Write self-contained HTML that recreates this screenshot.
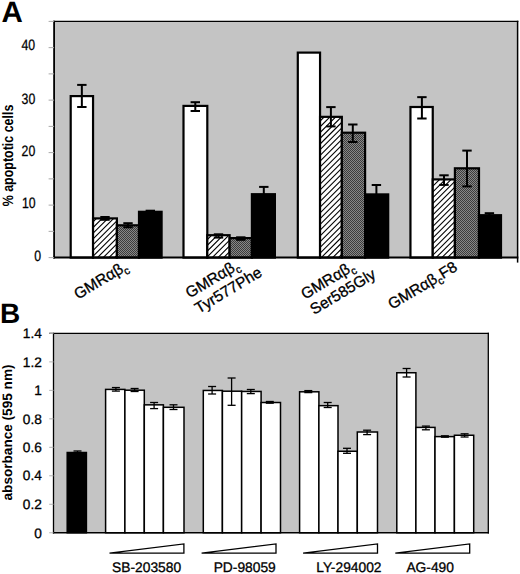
<!DOCTYPE html>
<html><head><meta charset="utf-8"><style>
html,body{margin:0;padding:0;background:#fff;}
svg{display:block;}
text{font-family:"Liberation Sans", sans-serif;fill:#000;stroke:#000;stroke-width:0.3px;text-rendering:geometricPrecision;}
text[font-weight=bold]{stroke:none;}
</style></head><body>
<svg width="520" height="574" viewBox="0 0 520 574">
<defs>
<pattern id="dots" patternUnits="userSpaceOnUse" width="2" height="2">
<rect width="2" height="2" fill="#888"/>
<rect width="1" height="1" fill="#3c3c3c"/>
<rect x="1" y="1" width="1" height="1" fill="#3c3c3c"/>
</pattern>
</defs>
<text x="1.6" y="21.9" font-size="29.5" font-weight="bold">A</text>
<text x="-0.1" y="323.3" font-size="28" font-weight="bold">B</text>
<rect x="54.1" y="21.4" width="463.5" height="236.2" fill="#c4c4c4" stroke="none" stroke-width="0"/>
<rect x="70.7" y="96.1" width="22.35" height="161.5" fill="#fff" stroke="#000" stroke-width="2.2"/>
<rect x="93.05" y="218.4" width="23.85" height="39.2" fill="#fff" stroke="none" stroke-width="0"/>
<clipPath id="hc0"><rect x="93.05" y="218.4" width="23.85" height="39.2"/></clipPath>
<path clip-path="url(#hc0)" d="M91.05,218.07L118.9,190.22M91.05,223.81L118.9,195.96M91.05,229.55L118.9,201.7M91.05,235.29L118.9,207.44M91.05,241.03L118.9,213.18M91.05,246.77L118.9,218.92M91.05,252.51L118.9,224.66M91.05,258.25L118.9,230.4M91.05,263.99L118.9,236.14M91.05,269.73L118.9,241.88M91.05,275.47L118.9,247.62M91.05,281.21L118.9,253.36M91.05,286.95L118.9,259.1" stroke="#000" stroke-width="1.1" fill="none"/>
<rect x="93.05" y="218.4" width="23.85" height="39.2" fill="none" stroke="#000" stroke-width="2.2"/>
<rect x="116.9" y="225.3" width="22.1" height="32.3" fill="url(#dots)" stroke="#000" stroke-width="2.2"/>
<rect x="139" y="211.8" width="22.6" height="45.8" fill="#000" stroke="#000" stroke-width="2.2"/>
<line x1="81.85" y1="84.9" x2="81.85" y2="107" stroke="#000" stroke-width="2.0"/>
<line x1="77.15" y1="84.9" x2="86.55" y2="84.9" stroke="#000" stroke-width="2.0"/>
<line x1="77.15" y1="107" x2="86.55" y2="107" stroke="#000" stroke-width="2.0"/>
<line x1="105" y1="217" x2="105" y2="219.8" stroke="#000" stroke-width="2.0"/>
<line x1="100.3" y1="217" x2="109.7" y2="217" stroke="#000" stroke-width="2.0"/>
<line x1="100.3" y1="219.8" x2="109.7" y2="219.8" stroke="#000" stroke-width="2.0"/>
<line x1="128" y1="223.2" x2="128" y2="227.3" stroke="#000" stroke-width="2.0"/>
<line x1="123.3" y1="223.2" x2="132.7" y2="223.2" stroke="#000" stroke-width="2.0"/>
<line x1="123.3" y1="227.3" x2="132.7" y2="227.3" stroke="#000" stroke-width="2.0"/>
<line x1="150.3" y1="210.7" x2="150.3" y2="214" stroke="#000" stroke-width="2.0"/>
<line x1="145.6" y1="210.7" x2="155" y2="210.7" stroke="#000" stroke-width="2.0"/>
<line x1="145.6" y1="214" x2="155" y2="214" stroke="#000" stroke-width="2.0"/>
<rect x="183.5" y="105.9" width="23.8" height="151.7" fill="#fff" stroke="#000" stroke-width="2.2"/>
<rect x="207.3" y="235.2" width="22.3" height="22.4" fill="#fff" stroke="none" stroke-width="0"/>
<clipPath id="hc1"><rect x="207.3" y="235.2" width="22.3" height="22.4"/></clipPath>
<path clip-path="url(#hc1)" d="M205.3,230.1L231.6,203.8M205.3,235.84L231.6,209.54M205.3,241.58L231.6,215.28M205.3,247.32L231.6,221.02M205.3,253.06L231.6,226.76M205.3,258.8L231.6,232.5M205.3,264.54L231.6,238.24M205.3,270.28L231.6,243.98M205.3,276.02L231.6,249.72M205.3,281.76L231.6,255.46M205.3,287.5L231.6,261.2" stroke="#000" stroke-width="1.1" fill="none"/>
<rect x="207.3" y="235.2" width="22.3" height="22.4" fill="none" stroke="#000" stroke-width="2.2"/>
<rect x="229.6" y="238.1" width="22.3" height="19.5" fill="url(#dots)" stroke="#000" stroke-width="2.2"/>
<rect x="251.9" y="194.2" width="23" height="63.4" fill="#000" stroke="#000" stroke-width="2.2"/>
<line x1="195.3" y1="102.2" x2="195.3" y2="111" stroke="#000" stroke-width="2.0"/>
<line x1="190.6" y1="102.2" x2="200" y2="102.2" stroke="#000" stroke-width="2.0"/>
<line x1="190.6" y1="111" x2="200" y2="111" stroke="#000" stroke-width="2.0"/>
<line x1="218.5" y1="234.3" x2="218.5" y2="237.6" stroke="#000" stroke-width="2.0"/>
<line x1="213.8" y1="234.3" x2="223.2" y2="234.3" stroke="#000" stroke-width="2.0"/>
<line x1="213.8" y1="237.6" x2="223.2" y2="237.6" stroke="#000" stroke-width="2.0"/>
<line x1="240.8" y1="237.3" x2="240.8" y2="239.8" stroke="#000" stroke-width="2.0"/>
<line x1="236.1" y1="237.3" x2="245.5" y2="237.3" stroke="#000" stroke-width="2.0"/>
<line x1="236.1" y1="239.8" x2="245.5" y2="239.8" stroke="#000" stroke-width="2.0"/>
<line x1="263.8" y1="186.9" x2="263.8" y2="200" stroke="#000" stroke-width="2.0"/>
<line x1="259.1" y1="186.9" x2="268.5" y2="186.9" stroke="#000" stroke-width="2.0"/>
<line x1="259.1" y1="200" x2="268.5" y2="200" stroke="#000" stroke-width="2.0"/>
<rect x="297.8" y="52.6" width="22.25" height="205" fill="#fff" stroke="#000" stroke-width="2.2"/>
<rect x="320.05" y="116.85" width="21.8" height="140.75" fill="#fff" stroke="none" stroke-width="0"/>
<clipPath id="hc2"><rect x="320.05" y="116.85" width="21.8" height="140.75"/></clipPath>
<path clip-path="url(#hc2)" d="M318.05,111.61L343.85,85.81M318.05,117.35L343.85,91.55M318.05,123.09L343.85,97.29M318.05,128.83L343.85,103.03M318.05,134.57L343.85,108.77M318.05,140.31L343.85,114.51M318.05,146.05L343.85,120.25M318.05,151.79L343.85,125.99M318.05,157.53L343.85,131.73M318.05,163.27L343.85,137.47M318.05,169.01L343.85,143.21M318.05,174.75L343.85,148.95M318.05,180.49L343.85,154.69M318.05,186.23L343.85,160.43M318.05,191.97L343.85,166.17M318.05,197.71L343.85,171.91M318.05,203.45L343.85,177.65M318.05,209.19L343.85,183.39M318.05,214.93L343.85,189.13M318.05,220.67L343.85,194.87M318.05,226.41L343.85,200.61M318.05,232.15L343.85,206.35M318.05,237.89L343.85,212.09M318.05,243.63L343.85,217.83M318.05,249.37L343.85,223.57M318.05,255.11L343.85,229.31M318.05,260.85L343.85,235.05M318.05,266.59L343.85,240.79M318.05,272.33L343.85,246.53M318.05,278.07L343.85,252.27M318.05,283.81L343.85,258.01" stroke="#000" stroke-width="1.1" fill="none"/>
<rect x="320.05" y="116.85" width="21.8" height="140.75" fill="none" stroke="#000" stroke-width="2.2"/>
<rect x="341.85" y="132.7" width="23.25" height="124.9" fill="url(#dots)" stroke="#000" stroke-width="2.2"/>
<rect x="365.1" y="194.4" width="23.1" height="63.2" fill="#000" stroke="#000" stroke-width="2.2"/>
<line x1="330.9" y1="107.1" x2="330.9" y2="126.4" stroke="#000" stroke-width="2.0"/>
<line x1="326.2" y1="107.1" x2="335.6" y2="107.1" stroke="#000" stroke-width="2.0"/>
<line x1="326.2" y1="126.4" x2="335.6" y2="126.4" stroke="#000" stroke-width="2.0"/>
<line x1="352.8" y1="124.5" x2="352.8" y2="142" stroke="#000" stroke-width="2.0"/>
<line x1="348.1" y1="124.5" x2="357.5" y2="124.5" stroke="#000" stroke-width="2.0"/>
<line x1="348.1" y1="142" x2="357.5" y2="142" stroke="#000" stroke-width="2.0"/>
<line x1="376.4" y1="185" x2="376.4" y2="204" stroke="#000" stroke-width="2.0"/>
<line x1="371.7" y1="185" x2="381.1" y2="185" stroke="#000" stroke-width="2.0"/>
<line x1="371.7" y1="204" x2="381.1" y2="204" stroke="#000" stroke-width="2.0"/>
<rect x="410.45" y="107" width="22.3" height="150.6" fill="#fff" stroke="#000" stroke-width="2.2"/>
<rect x="432.75" y="179.4" width="22.15" height="78.2" fill="#fff" stroke="none" stroke-width="0"/>
<clipPath id="hc3"><rect x="432.75" y="179.4" width="22.15" height="78.2"/></clipPath>
<path clip-path="url(#hc3)" d="M430.75,176.85L456.9,150.7M430.75,182.59L456.9,156.44M430.75,188.33L456.9,162.18M430.75,194.07L456.9,167.92M430.75,199.81L456.9,173.66M430.75,205.55L456.9,179.4M430.75,211.29L456.9,185.14M430.75,217.03L456.9,190.88M430.75,222.77L456.9,196.62M430.75,228.51L456.9,202.36M430.75,234.25L456.9,208.1M430.75,239.99L456.9,213.84M430.75,245.73L456.9,219.58M430.75,251.47L456.9,225.32M430.75,257.21L456.9,231.06M430.75,262.95L456.9,236.8M430.75,268.69L456.9,242.54M430.75,274.43L456.9,248.28M430.75,280.17L456.9,254.02M430.75,285.91L456.9,259.76" stroke="#000" stroke-width="1.1" fill="none"/>
<rect x="432.75" y="179.4" width="22.15" height="78.2" fill="none" stroke="#000" stroke-width="2.2"/>
<rect x="454.9" y="168.3" width="24.1" height="89.3" fill="url(#dots)" stroke="#000" stroke-width="2.2"/>
<rect x="479" y="215.2" width="22" height="42.4" fill="#000" stroke="#000" stroke-width="2.2"/>
<line x1="421.9" y1="97.15" x2="421.9" y2="118.5" stroke="#000" stroke-width="2.0"/>
<line x1="417.2" y1="97.15" x2="426.6" y2="97.15" stroke="#000" stroke-width="2.0"/>
<line x1="417.2" y1="118.5" x2="426.6" y2="118.5" stroke="#000" stroke-width="2.0"/>
<line x1="444" y1="175.3" x2="444" y2="184.9" stroke="#000" stroke-width="2.0"/>
<line x1="439.3" y1="175.3" x2="448.7" y2="175.3" stroke="#000" stroke-width="2.0"/>
<line x1="439.3" y1="184.9" x2="448.7" y2="184.9" stroke="#000" stroke-width="2.0"/>
<line x1="467" y1="150.6" x2="467" y2="186.4" stroke="#000" stroke-width="2.0"/>
<line x1="462.3" y1="150.6" x2="471.7" y2="150.6" stroke="#000" stroke-width="2.0"/>
<line x1="462.3" y1="186.4" x2="471.7" y2="186.4" stroke="#000" stroke-width="2.0"/>
<line x1="489.4" y1="213.2" x2="489.4" y2="218" stroke="#000" stroke-width="2.0"/>
<line x1="484.7" y1="213.2" x2="494.1" y2="213.2" stroke="#000" stroke-width="2.0"/>
<line x1="484.7" y1="218" x2="494.1" y2="218" stroke="#000" stroke-width="2.0"/>
<line x1="53.2" y1="21.4" x2="518.35" y2="21.4" stroke="#000" stroke-width="1.3"/>
<line x1="517.6" y1="20.75" x2="517.6" y2="262.6" stroke="#000" stroke-width="1.5"/>
<line x1="54.1" y1="20.75" x2="54.1" y2="258.6" stroke="#000" stroke-width="1.8"/>
<line x1="53.2" y1="257.6" x2="518.35" y2="257.6" stroke="#000" stroke-width="2.0"/>
<line x1="48.6" y1="257.6" x2="54.1" y2="257.6" stroke="#aaa" stroke-width="1.0"/>
<line x1="48.6" y1="231.36" x2="54.1" y2="231.36" stroke="#aaa" stroke-width="1.0"/>
<line x1="48.6" y1="205.11" x2="54.1" y2="205.11" stroke="#aaa" stroke-width="1.0"/>
<line x1="48.6" y1="178.87" x2="54.1" y2="178.87" stroke="#aaa" stroke-width="1.0"/>
<line x1="48.6" y1="152.62" x2="54.1" y2="152.62" stroke="#aaa" stroke-width="1.0"/>
<line x1="48.6" y1="126.38" x2="54.1" y2="126.38" stroke="#aaa" stroke-width="1.0"/>
<line x1="48.6" y1="100.13" x2="54.1" y2="100.13" stroke="#aaa" stroke-width="1.0"/>
<line x1="48.6" y1="73.89" x2="54.1" y2="73.89" stroke="#aaa" stroke-width="1.0"/>
<line x1="48.6" y1="47.64" x2="54.1" y2="47.64" stroke="#aaa" stroke-width="1.0"/>
<line x1="48.6" y1="21.4" x2="54.1" y2="21.4" stroke="#aaa" stroke-width="1.0"/>
<text transform="translate(35.1,49.5) scale(0.82,1)" font-size="15" text-anchor="end">40</text>
<text transform="translate(35.3,103.5) scale(0.82,1)" font-size="15" text-anchor="end">30</text>
<text transform="translate(35.3,155.5) scale(0.82,1)" font-size="15" text-anchor="end">20</text>
<text transform="translate(35.7,208.0) scale(0.82,1)" font-size="15" text-anchor="end">10</text>
<text transform="translate(41.1,260.5) scale(0.82,1)" font-size="15" text-anchor="end">0</text>
<text transform="translate(12.6,155.5) rotate(-90) scale(0.83,1)" font-size="15" font-weight="bold" text-anchor="middle">% apoptotic cells</text>
<text transform="translate(78,299.7) rotate(-31)" font-size="15.5"><tspan x="0" y="0.0">GMR&#945;&#946;<tspan font-size="10.8" dy="3.9">c</tspan></tspan></text>
<text transform="translate(189.6,298.6) rotate(-31)" font-size="15.5"><tspan x="0" y="0.0">GMR&#945;&#946;<tspan font-size="10.8" dy="3.9">c</tspan></tspan><tspan x="0" y="17.8">Tyr577Phe</tspan></text>
<text transform="translate(304.9,299.8) rotate(-31)" font-size="15.5"><tspan x="0" y="0.0">GMR&#945;&#946;<tspan font-size="10.8" dy="3.9">c</tspan></tspan><tspan x="0" y="17.8">Ser585Gly</tspan></text>
<text transform="translate(392,309.8) rotate(-31)" font-size="15.5"><tspan x="0" y="0.0">GMR&#945;&#946;<tspan font-size="10.8" dy="3.9">c</tspan><tspan dy="-3.9">F8</tspan></tspan></text>
<rect x="53.5" y="333.4" width="434.8" height="199.35" fill="#c4c4c4" stroke="none" stroke-width="0"/>
<rect x="67.2" y="452.5" width="19.2" height="80.25" fill="#000" stroke="#000" stroke-width="1.5"/>
<line x1="77.5" y1="451" x2="77.5" y2="454" stroke="#000" stroke-width="1.3"/>
<line x1="73.5" y1="451" x2="81.5" y2="451" stroke="#000" stroke-width="1.3"/>
<line x1="73.5" y1="454" x2="81.5" y2="454" stroke="#000" stroke-width="1.3"/>
<rect x="105.6" y="389.4" width="19.3" height="143.35" fill="#fff" stroke="#000" stroke-width="1.5"/>
<rect x="124.9" y="390.2" width="19.4" height="142.55" fill="#fff" stroke="#000" stroke-width="1.5"/>
<rect x="144.3" y="404.85" width="19.1" height="127.9" fill="#fff" stroke="#000" stroke-width="1.5"/>
<rect x="163.4" y="407.3" width="20.6" height="125.45" fill="#fff" stroke="#000" stroke-width="1.5"/>
<line x1="115.9" y1="387.55" x2="115.9" y2="391.1" stroke="#000" stroke-width="1.3"/>
<line x1="111.9" y1="387.55" x2="119.9" y2="387.55" stroke="#000" stroke-width="1.3"/>
<line x1="111.9" y1="391.1" x2="119.9" y2="391.1" stroke="#000" stroke-width="1.3"/>
<line x1="134.6" y1="388.5" x2="134.6" y2="391.5" stroke="#000" stroke-width="1.3"/>
<line x1="130.6" y1="388.5" x2="138.6" y2="388.5" stroke="#000" stroke-width="1.3"/>
<line x1="130.6" y1="391.5" x2="138.6" y2="391.5" stroke="#000" stroke-width="1.3"/>
<line x1="154.1" y1="402.5" x2="154.1" y2="408.6" stroke="#000" stroke-width="1.3"/>
<line x1="150.1" y1="402.5" x2="158.1" y2="402.5" stroke="#000" stroke-width="1.3"/>
<line x1="150.1" y1="408.6" x2="158.1" y2="408.6" stroke="#000" stroke-width="1.3"/>
<line x1="173.5" y1="404.8" x2="173.5" y2="409.5" stroke="#000" stroke-width="1.3"/>
<line x1="169.5" y1="404.8" x2="177.5" y2="404.8" stroke="#000" stroke-width="1.3"/>
<line x1="169.5" y1="409.5" x2="177.5" y2="409.5" stroke="#000" stroke-width="1.3"/>
<rect x="203.3" y="390.45" width="19.1" height="142.3" fill="#fff" stroke="#000" stroke-width="1.5"/>
<rect x="222.4" y="391.2" width="19.25" height="141.55" fill="#fff" stroke="#000" stroke-width="1.5"/>
<rect x="241.65" y="391.45" width="19.45" height="141.3" fill="#fff" stroke="#000" stroke-width="1.5"/>
<rect x="261.1" y="402.5" width="19.4" height="130.25" fill="#fff" stroke="#000" stroke-width="1.5"/>
<line x1="212.1" y1="386.5" x2="212.1" y2="394" stroke="#000" stroke-width="1.3"/>
<line x1="208.1" y1="386.5" x2="216.1" y2="386.5" stroke="#000" stroke-width="1.3"/>
<line x1="208.1" y1="394" x2="216.1" y2="394" stroke="#000" stroke-width="1.3"/>
<line x1="231.6" y1="378" x2="231.6" y2="405.3" stroke="#000" stroke-width="1.3"/>
<line x1="227.6" y1="378" x2="235.6" y2="378" stroke="#000" stroke-width="1.3"/>
<line x1="227.6" y1="405.3" x2="235.6" y2="405.3" stroke="#000" stroke-width="1.3"/>
<line x1="250.8" y1="389.5" x2="250.8" y2="393.6" stroke="#000" stroke-width="1.3"/>
<line x1="246.8" y1="389.5" x2="254.8" y2="389.5" stroke="#000" stroke-width="1.3"/>
<line x1="246.8" y1="393.6" x2="254.8" y2="393.6" stroke="#000" stroke-width="1.3"/>
<line x1="269.8" y1="401.5" x2="269.8" y2="403.2" stroke="#000" stroke-width="1.3"/>
<line x1="265.8" y1="401.5" x2="273.8" y2="401.5" stroke="#000" stroke-width="1.3"/>
<line x1="265.8" y1="403.2" x2="273.8" y2="403.2" stroke="#000" stroke-width="1.3"/>
<rect x="299.6" y="391.8" width="19.3" height="140.95" fill="#fff" stroke="#000" stroke-width="1.5"/>
<rect x="318.9" y="405.65" width="19.1" height="127.1" fill="#fff" stroke="#000" stroke-width="1.5"/>
<rect x="338" y="451.25" width="19.3" height="81.5" fill="#fff" stroke="#000" stroke-width="1.5"/>
<rect x="357.3" y="432" width="20.2" height="100.75" fill="#fff" stroke="#000" stroke-width="1.5"/>
<line x1="308.3" y1="390.6" x2="308.3" y2="392.6" stroke="#000" stroke-width="1.3"/>
<line x1="304.3" y1="390.6" x2="312.3" y2="390.6" stroke="#000" stroke-width="1.3"/>
<line x1="304.3" y1="392.6" x2="312.3" y2="392.6" stroke="#000" stroke-width="1.3"/>
<line x1="327.7" y1="402.5" x2="327.7" y2="407.5" stroke="#000" stroke-width="1.3"/>
<line x1="323.7" y1="402.5" x2="331.7" y2="402.5" stroke="#000" stroke-width="1.3"/>
<line x1="323.7" y1="407.5" x2="331.7" y2="407.5" stroke="#000" stroke-width="1.3"/>
<line x1="347" y1="448.3" x2="347" y2="453.3" stroke="#000" stroke-width="1.3"/>
<line x1="343" y1="448.3" x2="351" y2="448.3" stroke="#000" stroke-width="1.3"/>
<line x1="343" y1="453.3" x2="351" y2="453.3" stroke="#000" stroke-width="1.3"/>
<line x1="367.1" y1="430.2" x2="367.1" y2="434.6" stroke="#000" stroke-width="1.3"/>
<line x1="363.1" y1="430.2" x2="371.1" y2="430.2" stroke="#000" stroke-width="1.3"/>
<line x1="363.1" y1="434.6" x2="371.1" y2="434.6" stroke="#000" stroke-width="1.3"/>
<rect x="396.8" y="372.75" width="19.1" height="160" fill="#fff" stroke="#000" stroke-width="1.5"/>
<rect x="415.9" y="427.4" width="19.1" height="105.35" fill="#fff" stroke="#000" stroke-width="1.5"/>
<rect x="435" y="436.6" width="19.4" height="96.15" fill="#fff" stroke="#000" stroke-width="1.5"/>
<rect x="454.4" y="435.25" width="19.3" height="97.5" fill="#fff" stroke="#000" stroke-width="1.5"/>
<line x1="406.6" y1="368.5" x2="406.6" y2="377" stroke="#000" stroke-width="1.3"/>
<line x1="402.6" y1="368.5" x2="410.6" y2="368.5" stroke="#000" stroke-width="1.3"/>
<line x1="402.6" y1="377" x2="410.6" y2="377" stroke="#000" stroke-width="1.3"/>
<line x1="425.9" y1="426.1" x2="425.9" y2="429.8" stroke="#000" stroke-width="1.3"/>
<line x1="421.9" y1="426.1" x2="429.9" y2="426.1" stroke="#000" stroke-width="1.3"/>
<line x1="421.9" y1="429.8" x2="429.9" y2="429.8" stroke="#000" stroke-width="1.3"/>
<line x1="444.9" y1="435.8" x2="444.9" y2="437.2" stroke="#000" stroke-width="1.3"/>
<line x1="440.9" y1="435.8" x2="448.9" y2="435.8" stroke="#000" stroke-width="1.3"/>
<line x1="440.9" y1="437.2" x2="448.9" y2="437.2" stroke="#000" stroke-width="1.3"/>
<line x1="464.6" y1="433.8" x2="464.6" y2="437" stroke="#000" stroke-width="1.3"/>
<line x1="460.6" y1="433.8" x2="468.6" y2="433.8" stroke="#000" stroke-width="1.3"/>
<line x1="460.6" y1="437" x2="468.6" y2="437" stroke="#000" stroke-width="1.3"/>
<line x1="49.2" y1="333.4" x2="488.95" y2="333.4" stroke="#000" stroke-width="1.2"/>
<line x1="488.3" y1="332.8" x2="488.3" y2="533.6" stroke="#000" stroke-width="1.3"/>
<line x1="53.5" y1="332.8" x2="53.5" y2="533.6" stroke="#000" stroke-width="1.3"/>
<line x1="52.85" y1="532.75" x2="488.95" y2="532.75" stroke="#000" stroke-width="1.7"/>
<line x1="49.2" y1="532.75" x2="53.5" y2="532.75" stroke="#b4b4b4" stroke-width="1.0"/>
<line x1="49.2" y1="504.27" x2="53.5" y2="504.27" stroke="#b4b4b4" stroke-width="1.0"/>
<line x1="49.2" y1="475.79" x2="53.5" y2="475.79" stroke="#b4b4b4" stroke-width="1.0"/>
<line x1="49.2" y1="447.31" x2="53.5" y2="447.31" stroke="#b4b4b4" stroke-width="1.0"/>
<line x1="49.2" y1="418.84" x2="53.5" y2="418.84" stroke="#b4b4b4" stroke-width="1.0"/>
<line x1="49.2" y1="390.36" x2="53.5" y2="390.36" stroke="#b4b4b4" stroke-width="1.0"/>
<line x1="49.2" y1="361.88" x2="53.5" y2="361.88" stroke="#b4b4b4" stroke-width="1.0"/>
<line x1="49.2" y1="333.4" x2="53.5" y2="333.4" stroke="#b4b4b4" stroke-width="1.0"/>
<text x="41.8" y="537.7" font-size="13.7" text-anchor="end" font-weight="normal" >0</text>
<text x="41.8" y="509.3" font-size="13.7" text-anchor="end" font-weight="normal" >0.2</text>
<text x="41.8" y="480.4" font-size="13.7" text-anchor="end" font-weight="normal" >0.4</text>
<text x="41.8" y="451.7" font-size="13.7" text-anchor="end" font-weight="normal" >0.6</text>
<text x="41.8" y="424.1" font-size="13.7" text-anchor="end" font-weight="normal" >0.8</text>
<text x="41.8" y="395.3" font-size="13.7" text-anchor="end" font-weight="normal" >1</text>
<text x="41.8" y="366.8" font-size="13.7" text-anchor="end" font-weight="normal" >1.2</text>
<text x="41.8" y="337.6" font-size="13.7" text-anchor="end" font-weight="normal" >1.4</text>
<text transform="translate(11.9,432.5) rotate(-90)" font-size="13.6" font-weight="bold" text-anchor="middle">absorbance (595 nm)</text>
<path d="M109.5,553.2 L183.9,543.9 L183.9,553.2 Z" fill="#fff" stroke="#000" stroke-width="1.3" stroke-linejoin="miter"/>
<text x="146.6" y="572.3" font-size="13.8" text-anchor="middle" font-weight="normal" >SB-203580</text>
<path d="M201.6,553.2 L276,543.9 L276,553.2 Z" fill="#fff" stroke="#000" stroke-width="1.3" stroke-linejoin="miter"/>
<text x="244.7" y="572.3" font-size="13.8" text-anchor="middle" font-weight="normal" >PD-98059</text>
<path d="M303.1,553.2 L377.5,543.9 L377.5,553.2 Z" fill="#fff" stroke="#000" stroke-width="1.3" stroke-linejoin="miter"/>
<text x="348.9" y="572.3" font-size="13.8" text-anchor="middle" font-weight="normal" >LY-294002</text>
<path d="M395.3,553.2 L469.7,543.9 L469.7,553.2 Z" fill="#fff" stroke="#000" stroke-width="1.3" stroke-linejoin="miter"/>
<text x="430.2" y="572.3" font-size="13.8" text-anchor="middle" font-weight="normal" >AG-490</text>
</svg>
</body></html>
